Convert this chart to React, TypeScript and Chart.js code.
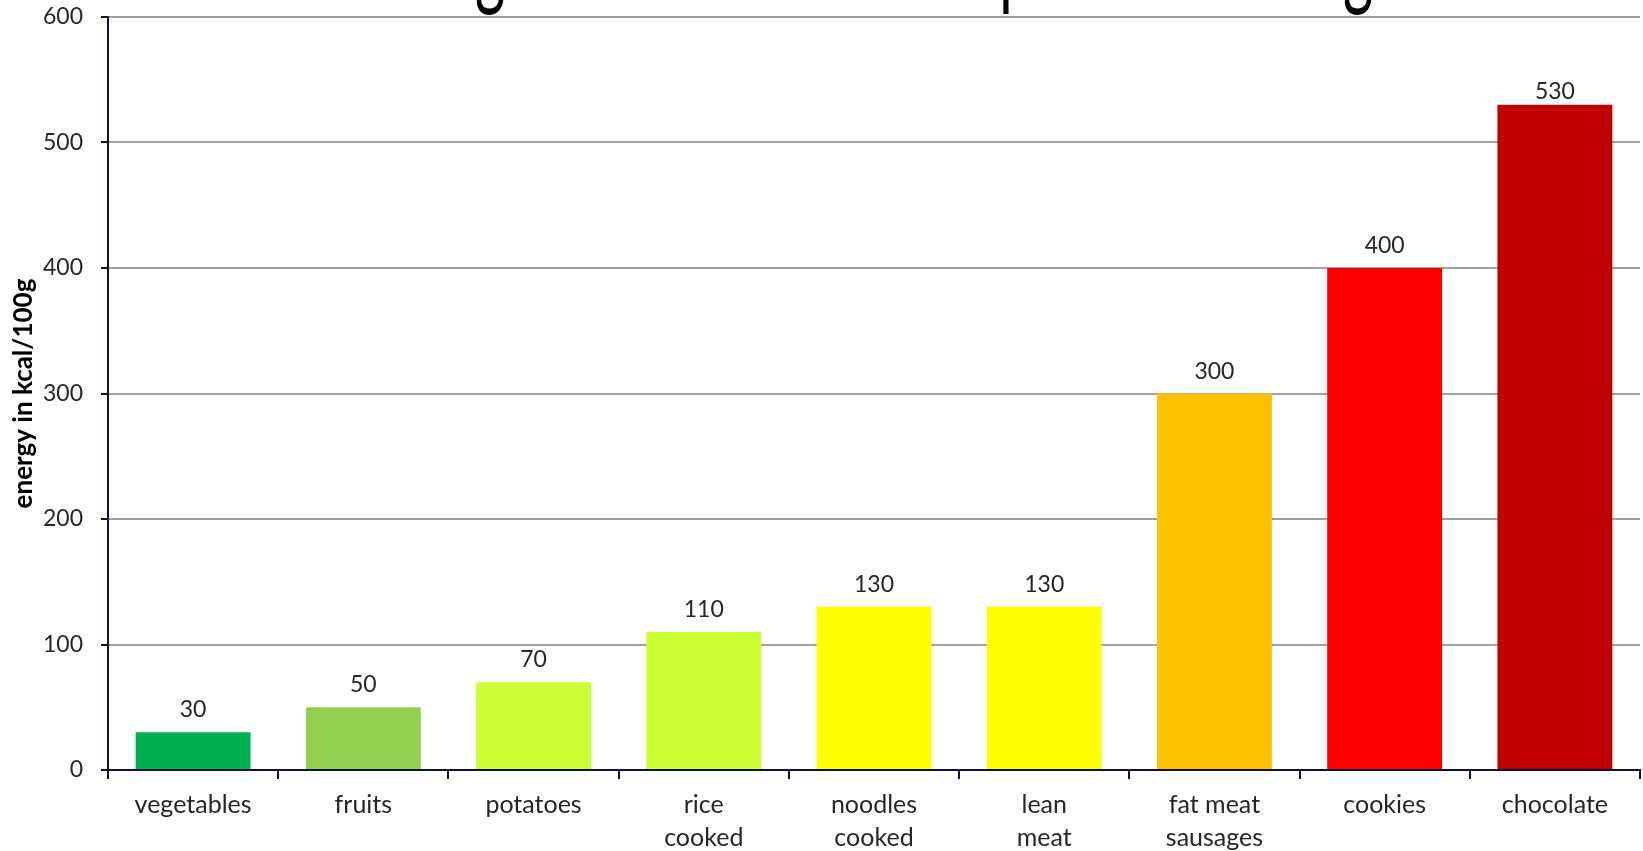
import React, { useEffect, useRef } from "react";
import { Chart, registerables } from "chart.js";

Chart.register(...registerables);

const TITLE = "Average food calories compared to 100 g";
const categories: string[][] = [
  ["vegetables"],
  ["fruits"],
  ["potatoes"],
  ["rice", "cooked"],
  ["noodles", "cooked"],
  ["lean", "meat"],
  ["fat meat", "sausages"],
  ["cookies"],
  ["chocolate"],
];
const values: number[] = [30, 50, 70, 110, 130, 130, 300, 400, 530];
const barColors: string[] = [
  "#00B050",
  "#92D050",
  "#CCFF33",
  "#CCFF33",
  "#FFFF00",
  "#FFFF00",
  "#FFC000",
  "#FF0000",
  "#C00000",
];
const yMin = 0;
const yMax = 600;
const yStep = 100;
const yAxisTitle = "energy in kcal/100g";

const NAVY = "#0f1238";
const LABEL_FONT = "Lato";

const valueLabelPlugin = {
  id: "valueLabels",
  afterDatasetsDraw(chart: any) {
    const ctx = chart.ctx;
    const meta = chart.getDatasetMeta(0);
    const minBaseline = chart.chartArea.top + 83;
    ctx.save();
    ctx.font = `23px ${LABEL_FONT}`;
    ctx.fillStyle = "#262626";
    ctx.textAlign = "center";
    ctx.textBaseline = "alphabetic";
    meta.data.forEach((bar: any, i: number) => {
      const y = Math.max(bar.y - 15, Math.min(minBaseline, bar.y - 6));
      ctx.fillText(String(values[i]), bar.x, y);
    });
    ctx.restore();
  },
};

const clippedTitlePlugin = {
  id: "clippedTitle",
  afterDraw(chart: any) {
    const ctx = chart.ctx;
    ctx.save();
    ctx.font = `100px ${LABEL_FONT}`;
    ctx.fillStyle = "#000000";
    ctx.textAlign = "left";
    ctx.textBaseline = "alphabetic";
    const i1 = TITLE.indexOf("g");
    const i2 = TITLE.lastIndexOf("g");
    const gW = ctx.measureText("g").width;
    const c1 = ctx.measureText(TITLE.slice(0, i1)).width + gW / 2;
    const c2 = ctx.measureText(TITLE.slice(0, i2)).width + gW / 2;
    const s = (1358 - 490) / (c2 - c1);
    const x0 = 490 - c1 * s;
    const desc = ctx.measureText("g").actualBoundingBoxDescent;
    const baseline = 15 - desc;
    ctx.translate(x0, baseline);
    ctx.scale(s, 1);
    ctx.fillText(TITLE, 0, 0);
    ctx.restore();
  },
};

export default function App() {
  const canvasRef = useRef<HTMLCanvasElement | null>(null);

  useEffect(() => {
    document.body.style.margin = "0";
    const canvas = canvasRef.current;
    if (!canvas) return;
    const chart = new Chart(canvas, {
      type: "bar",
      data: {
        labels: categories,
        datasets: [
          {
            data: values,
            backgroundColor: barColors,
            borderWidth: 0,
            barPercentage: 0.675,
            categoryPercentage: 1,
          },
        ],
      },
      options: {
        responsive: false,
        animation: false,
        devicePixelRatio: 1,
        layout: { padding: { top: 17, right: 3, left: 0, bottom: 0 } },
        plugins: {
          legend: { display: false },
          tooltip: { enabled: false },
          title: { display: false },
        },
        scales: {
          x: {
            offset: true,
            grid: {
              display: true,
              drawOnChartArea: false,
              drawTicks: true,
              tickLength: 9,
              color: NAVY,
              lineWidth: 2,
              offset: true,
            },
            border: { display: true, color: NAVY, width: 2 },
            ticks: {
              color: "#262626",
              font: { family: LABEL_FONT, size: 25, lineHeight: 1.3 },
              padding: 10,
              maxRotation: 0,
              autoSkip: false,
            },
            afterFit: (scale: any) => {
              scale.height = 81;
              scale.paddingLeft = 0;
              scale.paddingRight = 0;
            },
          },
          y: {
            min: yMin,
            max: yMax,
            ticks: {
              stepSize: yStep,
              color: "#262626",
              font: { family: LABEL_FONT, size: 23 },
              padding: 18,
            },
            grid: {
              color: "#a0a0a0",
              lineWidth: 2,
              tickColor: NAVY,
              tickLength: 7,
              drawTicks: true,
            },
            border: { display: true, color: NAVY, width: 2 },
            title: {
              display: true,
              text: yAxisTitle,
              color: "#000000",
              font: { family: LABEL_FONT, size: 26, weight: "bold", lineHeight: 1 },
              padding: { top: 11, bottom: 0 },
            },
            afterFit: (scale: any) => {
              scale.width = 108;
              scale.paddingTop = 0;
              scale.paddingBottom = 0;
            },
          },
        },
      },
      plugins: [valueLabelPlugin, clippedTitlePlugin],
    });
    return () => chart.destroy();
  }, []);

  return (
    <div style={{ width: 1643, height: 851, position: "relative" }}>
      <canvas ref={canvasRef} width={1643} height={851} style={{ display: "block" }} />
    </div>
  );
}
